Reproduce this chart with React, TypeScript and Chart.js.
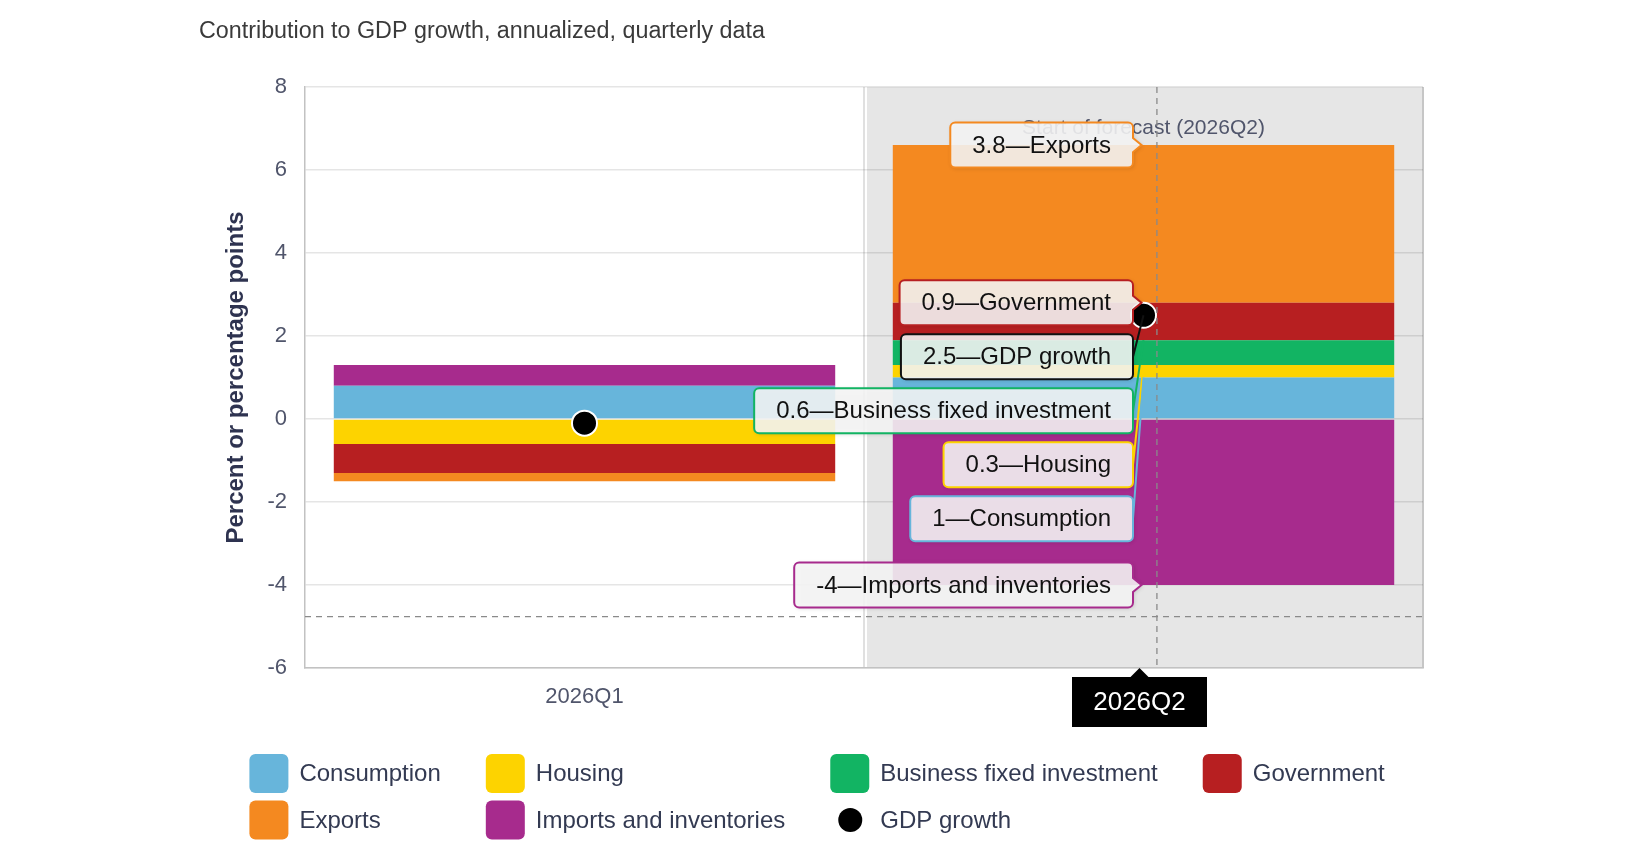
import React, { useEffect, useRef } from 'react';
import { Chart, registerables } from 'chart.js';

Chart.register(...registerables);

const FONT = '"Liberation Sans", Arial, sans-serif';
Chart.defaults.font.family = FONT;

// ---- data (percentage points, annualized) ----
const quarters = ['2026Q1', '2026Q2'];
const consumption = [0.8, 1];
const housing = [-0.6, 0.3];
const businessInvestment = [0, 0.6];
const government = [-0.7, 0.9];
const exportsContrib = [-0.2, 3.8];
const importsInventories = [0.5, -4];
const gdpGrowth = [-0.1, 2.5];
const yTicks = [8, 6, 4, 2, 0, -2, -4, -6];

const seriesNames = [
  'Consumption',
  'Housing',
  'Business fixed investment',
  'Government',
  'Exports',
  'Imports and inventories',
];
const seriesColors = ['#67b5db', '#fdd300', '#12b463', '#b71f21', '#f48920', '#a72b8d'];
const seriesData = [consumption, housing, businessInvestment, government, exportsContrib, importsInventories];

// hovered state shown in the picture
const forecastStart = '2026Q2';
const hoverQuarter = '2026Q2';
const crosshairCategory = 1.024;
const crosshairValue = -4.76;

const TEXT = '#50556b';

function fmt(v: number) {
  return String(v);
}

function roundRect(ctx: CanvasRenderingContext2D, x: number, y: number, w: number, h: number, r: number) {
  ctx.beginPath();
  ctx.moveTo(x + r, y);
  ctx.lineTo(x + w - r, y);
  ctx.arcTo(x + w, y, x + w, y + r, r);
  ctx.lineTo(x + w, y + h - r);
  ctx.arcTo(x + w, y + h, x + w - r, y + h, r);
  ctx.lineTo(x + r, y + h);
  ctx.arcTo(x, y + h, x, y + h - r, r);
  ctx.lineTo(x, y + r);
  ctx.arcTo(x, y, x + r, y, r);
  ctx.closePath();
}

function callout(ctx: CanvasRenderingContext2D, x: number, y: number, w: number, h: number, r: number, ax: number, ay: number) {
  const right = x + w;
  ctx.beginPath();
  ctx.moveTo(x + r, y);
  ctx.lineTo(right - r, y);
  ctx.arcTo(right, y, right, y + r, r);
  if (ay > y + r + 7 && ay < y + h - r - 7) {
    ctx.lineTo(right, ay - 7);
    ctx.lineTo(ax - 2, ay);
    ctx.lineTo(right, ay + 7);
  } else {
    ctx.lineTo(right, y + h / 2);
    ctx.lineTo(ax, ay);
    ctx.lineTo(right, y + h / 2);
  }
  ctx.lineTo(right, y + h - r);
  ctx.arcTo(right, y + h, right - r, y + h, r);
  ctx.lineTo(x + r, y + h);
  ctx.arcTo(x, y + h, x, y + h - r, r);
  ctx.lineTo(x, y + r);
  ctx.arcTo(x, y, x + r, y, r);
  ctx.closePath();
}

const overlay = {
  id: 'overlay',
  beforeDraw(chart: any) {
    const { ctx, chartArea: a, scales } = chart;
    const x = scales.x;
    const idx = quarters.indexOf(forecastStart);
    const step = x.getPixelForValue(1) - x.getPixelForValue(0);
    const start = x.getPixelForValue(idx) - step / 2;
    ctx.save();
    ctx.fillStyle = '#e6e6e6';
    ctx.fillRect(start + 3, a.top, a.right - start - 3, a.bottom - a.top);
    ctx.strokeStyle = 'rgba(0,0,0,0.12)';
    ctx.lineWidth = 2;
    ctx.beginPath();
    ctx.moveTo(start, a.top);
    ctx.lineTo(start, a.bottom);
    ctx.stroke();
    ctx.strokeStyle = '#c6c6c6';
    ctx.beginPath();
    ctx.moveTo(a.right, a.top);
    ctx.lineTo(a.right, a.bottom);
    ctx.stroke();
    ctx.restore();
  },
  beforeDatasetsDraw(chart: any) {
    const { ctx, scales } = chart;
    const idx = quarters.indexOf(forecastStart);
    ctx.save();
    ctx.font = `21px ${FONT}`;
    ctx.fillStyle = TEXT;
    ctx.textAlign = 'center';
    ctx.textBaseline = 'middle';
    ctx.fillText(`Start of forecast (${forecastStart})`, scales.x.getPixelForValue(idx), scales.y.getPixelForValue(7));
    ctx.restore();
  },
  afterDraw(chart: any) {
    const { ctx, chartArea: a, scales } = chart;
    const x = scales.x;
    const y = scales.y;
    const hi = quarters.indexOf(hoverQuarter);
    const step = x.getPixelForValue(1) - x.getPixelForValue(0);
    ctx.save();

    // titles
    ctx.font = `23.3px ${FONT}`;
    ctx.fillStyle = '#3a3a3a';
    ctx.textAlign = 'left';
    ctx.textBaseline = 'alphabetic';
    ctx.fillText('Contribution to GDP growth, annualized, quarterly data', 199, 38);

    ctx.save();
    ctx.translate(236, (a.top + a.bottom) / 2);
    ctx.rotate(-Math.PI / 2);
    ctx.font = `bold 24px ${FONT}`;
    ctx.fillStyle = '#2e3350';
    ctx.textAlign = 'center';
    ctx.textBaseline = 'middle';
    ctx.fillText('Percent or percentage points', 0, 0);
    ctx.restore();

    // crosshairs
    const cx = x.getPixelForValue(0) + crosshairCategory * step;
    const cy = y.getPixelForValue(crosshairValue);
    ctx.strokeStyle = '#8a8a8a';
    ctx.lineWidth = 1.3;
    ctx.setLineDash([6, 5]);
    ctx.beginPath();
    ctx.moveTo(a.left, cy);
    ctx.lineTo(a.right, cy);
    ctx.moveTo(cx, a.top);
    ctx.lineTo(cx, a.bottom);
    ctx.stroke();
    ctx.setLineDash([]);

    // split tooltip
    const items = chart.data.datasets.map((ds: any, i: number) => {
      const el = chart.getDatasetMeta(i).data[hi];
      return {
        text: `${fmt(ds.data[hi])}\u2014${ds.label}`,
        color: ds.tooltipColor,
        ax: el.x,
        ay: el.y,
      };
    });
    items.sort((p: any, q: any) => p.ay - q.ay);
    const h = 45;
    const spacing = 54;
    let prev = -Infinity;
    ctx.font = `24px ${FONT}`;
    for (const it of items) {
      const c = Math.max(it.ay, prev + spacing);
      prev = c;
      const w = ctx.measureText(it.text).width + 44;
      const right = it.ax - 10.5;
      const bx = right - w;
      const by = c - h / 2;
      ctx.save();
      ctx.shadowColor = 'rgba(0,0,0,0.18)';
      ctx.shadowBlur = 4;
      ctx.shadowOffsetX = 1;
      ctx.shadowOffsetY = 1;
      callout(ctx, bx, by, w, h, 5, it.ax, it.ay);
      ctx.fillStyle = 'rgba(247,247,247,0.88)';
      ctx.fill();
      ctx.restore();
      callout(ctx, bx, by, w, h, 5, it.ax, it.ay);
      ctx.strokeStyle = it.color;
      ctx.lineWidth = 2;
      ctx.stroke();
      ctx.fillStyle = '#111';
      ctx.textAlign = 'left';
      ctx.textBaseline = 'middle';
      ctx.fillText(it.text, bx + 22, c + 1);
    }

    // x-axis crosshair label
    const lx = x.getPixelForValue(hi) - 4;
    const lw = 135;
    const lt = a.bottom + 9;
    ctx.fillStyle = '#000';
    ctx.beginPath();
    ctx.moveTo(lx - 9, lt);
    ctx.lineTo(lx, a.bottom);
    ctx.lineTo(lx + 9, lt);
    ctx.closePath();
    ctx.fill();
    ctx.fillRect(lx - lw / 2, lt, lw, 50);
    ctx.fillStyle = '#fff';
    ctx.font = `26px ${FONT}`;
    ctx.textAlign = 'center';
    ctx.textBaseline = 'middle';
    ctx.fillText(hoverQuarter, lx, lt + 26);

    // legend
    const rows = [
      [0, 1, 2, 3],
      [4, 5, 6],
    ];
    const rowY = [773.5, 820];
    ctx.font = `24px ${FONT}`;
    const labelOf = (i: number) => chart.data.datasets[i].label;
    const colX: number[] = [249.4];
    for (let c = 0; c < 3; c++) {
      let maxW = 0;
      rows.forEach((r) => {
        if (r[c] !== undefined) maxW = Math.max(maxW, ctx.measureText(labelOf(r[c])).width);
      });
      colX.push(colX[c] + 50 + maxW + 45);
    }
    rows.forEach((r, ri) => {
      r.forEach((di, ci) => {
        const ds = chart.data.datasets[di];
        const sx = colX[ci];
        const sy = rowY[ri];
        if (ds.type === 'line') {
          ctx.fillStyle = '#000';
          ctx.beginPath();
          ctx.arc(sx + 20, sy, 12, 0, Math.PI * 2);
          ctx.fill();
        } else {
          ctx.fillStyle = ds.backgroundColor;
          roundRect(ctx, sx, sy - 19.5, 39, 39, 6);
          ctx.fill();
        }
        ctx.fillStyle = '#333a52';
        ctx.textAlign = 'left';
        ctx.textBaseline = 'middle';
        ctx.fillText(ds.label, sx + 50, sy + 1);
      });
    });

    ctx.restore();
  },
};

export default function App() {
  const canvasRef = useRef<HTMLCanvasElement | null>(null);

  useEffect(() => {
    if (!canvasRef.current) return;
    const barSets = seriesNames.map((name, i) => ({
      type: 'bar' as const,
      label: name,
      data: seriesData[i],
      backgroundColor: seriesColors[i],
      tooltipColor: seriesColors[i],
      borderWidth: 0,
      stack: 'contrib',
      order: 1,
      barPercentage: 0.897,
      categoryPercentage: 1,
    }));
    const chart = new Chart(canvasRef.current, {
      type: 'bar',
      data: {
        labels: quarters,
        datasets: [
          ...barSets,
          {
            type: 'line',
            label: 'GDP growth',
            data: gdpGrowth,
            showLine: false,
            stack: 'gdp',
            order: 0,
            pointRadius: 12.5,
            pointHoverRadius: 12.5,
            pointBackgroundColor: '#000',
            pointBorderColor: '#fff',
            pointBorderWidth: 2,
            tooltipColor: '#111',
          } as any,
        ],
      },
      options: {
        animation: false,
        responsive: true,
        maintainAspectRatio: false,
        events: [],
        layout: { padding: { top: 87, right: 205, left: 0, bottom: 0 } },
        plugins: {
          legend: { display: false },
          tooltip: { enabled: false },
          title: { display: false },
        },
        scales: {
          x: {
            stacked: true,
            grid: { display: false, drawTicks: false },
            border: { color: '#c2c2c2', width: 1.5 },
            ticks: { color: TEXT, font: { size: 22 }, padding: 16 },
            afterFit: (s: any) => {
              s.height = 194;
            },
          },
          y: {
            stacked: true,
            min: Math.min(...yTicks),
            max: Math.max(...yTicks),
            grid: { color: 'rgba(0,0,0,0.1)', lineWidth: 1.5, drawTicks: false },
            border: { color: '#c2c2c2', width: 1.5 },
            ticks: { stepSize: yTicks[0] - yTicks[1], color: TEXT, font: { size: 22 }, padding: 18 },
            afterFit: (s: any) => {
              s.width = 305;
            },
          },
        },
      },
      plugins: [overlay],
    });
    return () => chart.destroy();
  }, []);

  return (
    <div style={{ position: 'absolute', left: 0, top: 0, width: 1628, height: 862, background: '#fff' }}>
      <canvas ref={canvasRef} />
    </div>
  );
}
